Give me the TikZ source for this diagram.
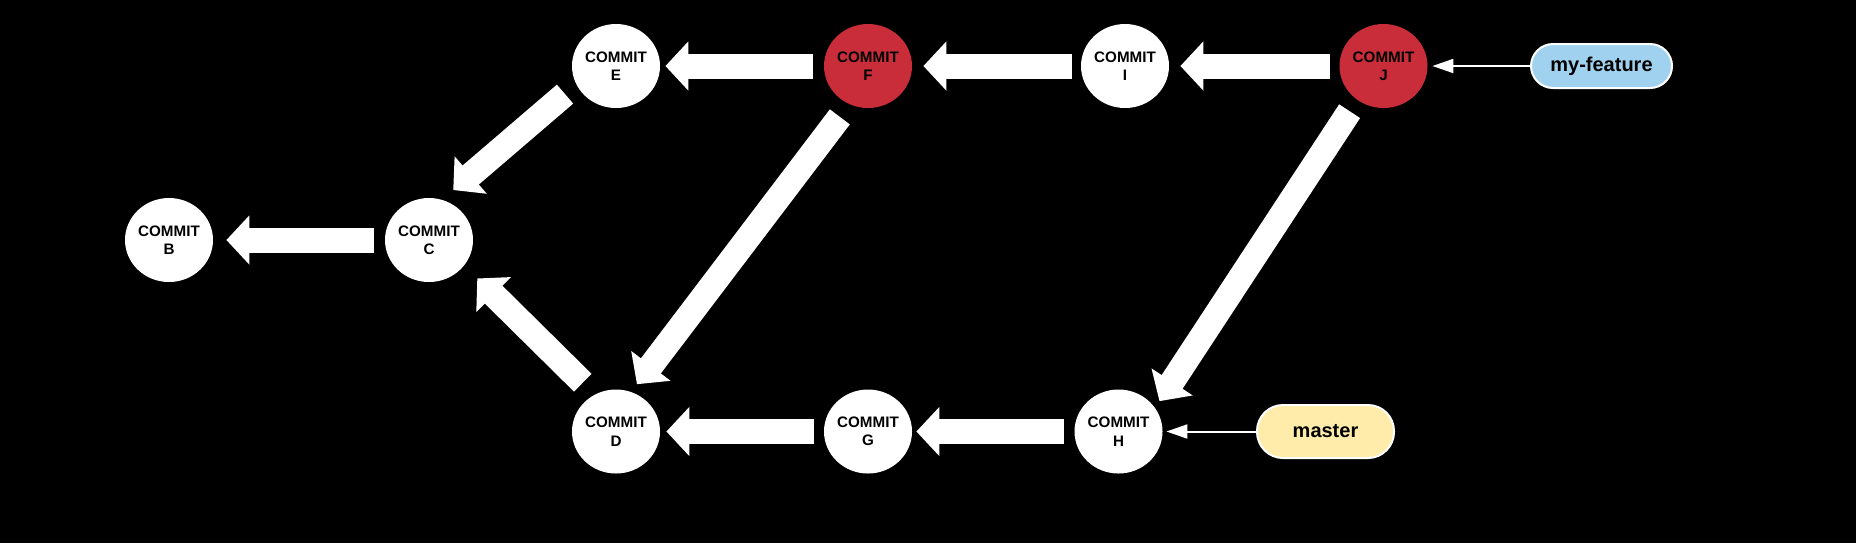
\documentclass[tikz,border=0pt]{standalone}
\usepackage{fontspec}
\setmainfont{Liberation Sans}
\usetikzlibrary{arrows.meta,shapes.geometric,positioning}

\definecolor{commitred}{HTML}{C92D39}
\definecolor{featureblue}{HTML}{A0D2F0}
\definecolor{masteryellow}{HTML}{FFEBAA}

\tikzstyle{commit}=[ellipse,fill=white,minimum width=44pt,minimum height=42pt,inner sep=0pt,align=center,font=\fontsize{7.6}{9.2}\selectfont\bfseries]
\tikzstyle{hot}=[commit,fill=commitred]
\tikzstyle{branch}=[rectangle,draw=white,line width=1pt,inner sep=0pt,font=\fontsize{10}{12}\selectfont\bfseries]
\tikzstyle{blk}=[white,line width=12.5pt,-{Triangle[width=24pt,length=11.5pt]},shorten <=5pt,shorten >=3pt]
\tikzstyle{ptr}=[white,line width=1pt,-{Triangle[width=7pt,length=10.5pt]},shorten >=2pt]

\begin{document}
\begin{tikzpicture}[x=0.5pt,y=-0.5pt]

\fill[black] (0,0) rectangle (1856,543);
\useasboundingbox (0,0) rectangle (1856,543);

% commits
\node[commit] (B) at (169,240) {COMMIT\\B};
\node[commit] (C) at (429,240) {COMMIT\\C};
\node[commit] (D) at (616,431.5) {COMMIT\\D};
\node[commit] (E) at (616,66) {COMMIT\\E};
\node[hot] (F) at (868,66) {COMMIT\\F};
\node[commit] (G) at (868,431.5) {COMMIT\\G};
\node[commit] (H) at (1118.5,431.5) {COMMIT\\H};
\node[commit] (I) at (1125,66) {COMMIT\\I};
\node[hot] (J) at (1383.5,66) {COMMIT\\J};

% branches
\node[branch,fill=featureblue,minimum width=70.5pt,minimum height=22pt,rounded corners=11pt] (feature) at (1601.5,66) {my-feature};
\node[branch,fill=masteryellow,minimum width=68.5pt,minimum height=26.5pt,rounded corners=13pt] (master) at (1325.5,431.5) {master};

\draw (F) edge[blk,shorten <=5.5pt,shorten >=2.5pt] (E);
\draw (I) edge[blk,shorten <=4.5pt,shorten >=5.5pt] (F);
\draw (J) edge[blk,shorten <=4.75pt,shorten >=5.5pt] (I);
\draw (C) edge[blk,shorten <=5.5pt,shorten >=6.5pt] (B);
\draw (G) edge[blk,shorten <=5pt,shorten >=3pt] (D);
\draw (H) edge[blk,shorten <=5.25pt,shorten >=2pt] (G);
\draw (E.205) edge[blk,shorten <=7.3pt,shorten >=7.3pt] (C.72);
\draw (F.244.5) edge[blk,shorten <=7.8pt,shorten >=4.7pt] (D.69);
\draw (J.232) edge[blk,shorten <=6.7pt,shorten >=3.9pt] (H.33);
\draw (D.120.4) edge[blk,shorten <=8.3pt,shorten >=9.1pt] (C.324);

\draw (feature.west) edge[ptr,shorten >=2.25pt] (J);
\draw (master.west) edge[ptr,shorten >=1.75pt] (H);
\end{tikzpicture}
\end{document}
